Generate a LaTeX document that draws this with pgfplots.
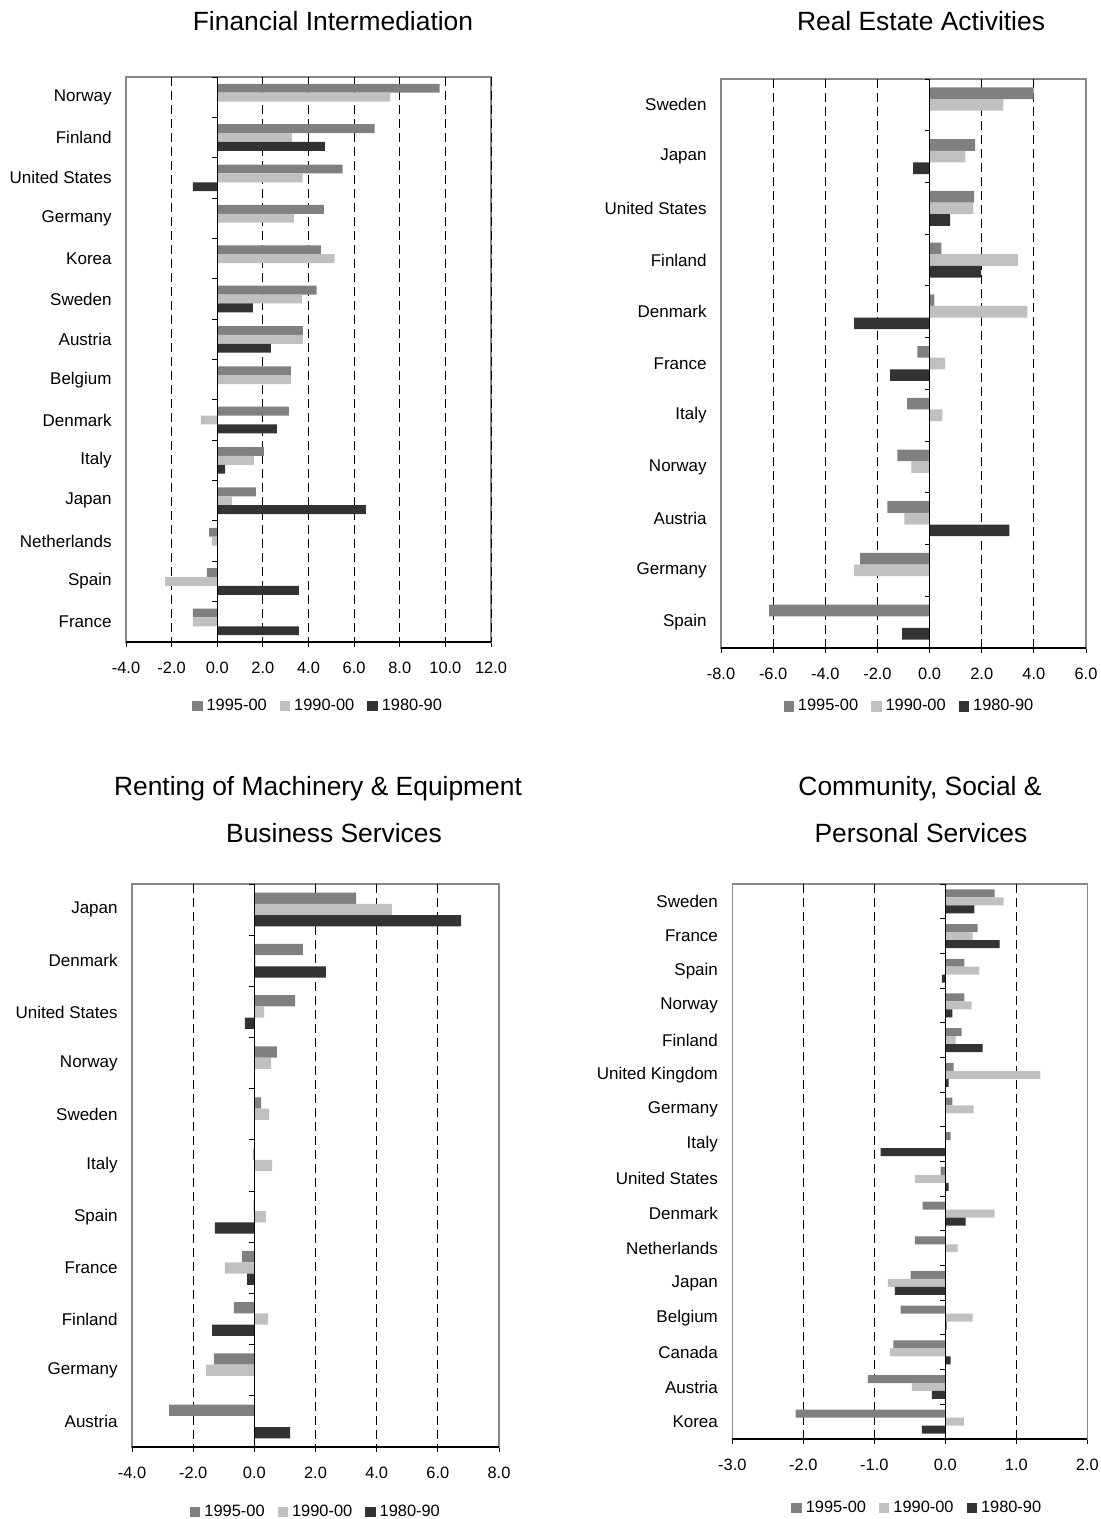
\documentclass[border=0pt]{standalone}
\usepackage{fontspec}
\setmainfont{Liberation Sans}
\usepackage{pgfplots}
\pgfplotsset{compat=1.18}
\definecolor{c95}{HTML}{808080}
\definecolor{c90}{HTML}{C0C0C0}
\definecolor{c80}{HTML}{333333}
\definecolor{frame}{HTML}{888888}

\newcommand\titlefont{\fontsize{13.2}{15}\selectfont}
\tikzset{gridl/.style={black, line width=0.5pt, dash pattern=on 4.5pt off 2.5pt}}

\pgfplotsset{
  oecd/.style={
    scale only axis, anchor=north west, xbar, y dir=reverse, clip=false,
    legend image code/.code={\fill[##1] (0pt,-2.6pt) rectangle (5.2pt,2.6pt);},
    axis line style={frame, line width=0.6pt},
    tick align=outside, xtick pos=left, ytick pos=left,
    major tick length=2.5pt,
    xtick style={black, line width=0.5pt},
    ytick style={draw=none},
    xticklabel style={font=\fontsize{8.2}{9.8}\selectfont, anchor=base, yshift=-13.3pt},
    yticklabel style={font=\fontsize{8.5}{10}\selectfont, anchor=east, inner sep=0pt, xshift=-4.5pt},
    legend style={draw=none, fill=none, legend columns=-1, anchor=center,
      font=\fontsize{8.2}{9.8}\selectfont, inner sep=0pt,
      /tikz/every even column/.append style={column sep=4.5pt}},
  },
}

\begin{document}
\begin{tikzpicture}
\path[use as bounding box] (0,0) rectangle (550.5pt,-759.5pt);

% --- Financial Intermediation ---
\node[font=\titlefont, anchor=base] at (166.5pt,-15.4pt) {Financial Intermediation};
\begin{axis}[oecd, at={(63pt,-38.5pt)}, width=182.5pt, height=282.5pt,
  xmin=-4, xmax=12, ymin=-0.5, ymax=13.5, bar width=0.22,
  xtick={-4,-2,...,12},
  xticklabels={-4.0,-2.0,0.0,2.0,4.0,6.0,8.0,10.0,12.0},
  ytick={0,...,13},
  yticklabels={Norway,Finland,United States,Germany,Korea,Sweden,Austria,Belgium,Denmark,Italy,Japan,Netherlands,Spain,France},
  legend style={at={(0.529,-0.113)}}]
\pgfplotsinvokeforeach{-2,2,4,6,8,10,12}{\draw[gridl] (axis cs:#1,-0.5) -- (axis cs:#1,13.5);}
\addplot[fill=c95, draw=none, bar shift=-0.22] coordinates {
  (9.75,0) (6.9,1) (5.5,2) (4.67,3) (4.54,4) (4.36,5) (3.75,6) (3.23,7) (3.14,8) (2.04,9) (1.69,10) (-0.36,11) (-0.45,12) (-1.07,13)};
\addlegendentry{1995-00}
\addplot[fill=c90, draw=none, bar shift=0] coordinates {
  (7.59,0) (3.27,1) (3.74,2) (3.36,3) (5.15,4) (3.71,5) (3.75,6) (3.23,7) (-0.72,8) (1.61,9) (0.64,10) (-0.23,11) (-2.29,12) (-1.07,13)};
\addlegendentry{1990-00}
\addplot[fill=c80, draw=none, bar shift=0.22] coordinates {
  (4.72,1) (-1.07,2) (1.56,5) (2.35,6) (2.61,8) (0.34,9) (6.51,10) (3.58,12) (3.58,13)};
\addlegendentry{1980-90}
\draw[black, line width=0.6pt] (axis cs:0,-0.5) -- (axis cs:0,13.5);
\pgfplotsinvokeforeach{-0.5,0.5,...,13.5}{\draw[black, line width=0.5pt] (axis cs:0,#1) -- ++(-2.5pt,0pt);}
\draw[black, line width=0.6pt] (axis cs:-4,13.5) -- (axis cs:12,13.5);
\end{axis}

% --- Real Estate Activities ---
\node[font=\titlefont, anchor=base] at (460.5pt,-15.4pt) {Real Estate Activities};
\begin{axis}[oecd, at={(360.5pt,-39.5pt)}, width=182.5pt, height=284.5pt,
  xmin=-8, xmax=6, ymin=-0.5, ymax=10.5, bar width=0.225,
  xtick={-8,-6,...,6},
  xticklabels={-8.0,-6.0,-4.0,-2.0,0.0,2.0,4.0,6.0},
  ytick={0,...,10},
  yticklabels={Sweden,Japan,United States,Finland,Denmark,France,Italy,Norway,Austria,Germany,Spain},
  legend style={at={(0.519,-0.103)}}]
\pgfplotsinvokeforeach{-6,-4,-2,2,4}{\draw[gridl] (axis cs:#1,-0.5) -- (axis cs:#1,10.5);}
\addplot[fill=c95, draw=none, bar shift=-0.225] coordinates {
  (3.99,0) (1.75,1) (1.71,2) (0.45,3) (0.18,4) (-0.47,5) (-0.86,6) (-1.24,7) (-1.62,8) (-2.66,9) (-6.15,10)};
\addlegendentry{1995-00}
\addplot[fill=c90, draw=none, bar shift=0] coordinates {
  (2.83,0) (1.37,1) (1.68,2) (3.40,3) (3.75,4) (0.60,5) (0.49,6) (-0.70,7) (-0.97,8) (-2.89,9)};
\addlegendentry{1990-00}
\addplot[fill=c80, draw=none, bar shift=0.225] coordinates {
  (-0.63,1) (0.79,2) (1.98,3) (-2.89,4) (-1.51,5) (3.06,8) (-1.05,10)};
\addlegendentry{1980-90}
\draw[black, line width=0.6pt] (axis cs:0,-0.5) -- (axis cs:0,10.5);
\pgfplotsinvokeforeach{-0.5,0.5,...,10.5}{\draw[black, line width=0.5pt] (axis cs:0,#1) -- ++(-2.5pt,0pt);}
\draw[black, line width=0.6pt] (axis cs:-8,10.5) -- (axis cs:6,10.5);
\end{axis}

% --- Renting of Machinery & Equipment ---
\node[font=\titlefont, anchor=base] at (159pt,-397.5pt) {Renting of Machinery \& Equipment};
\node[font=\titlefont, anchor=base] at (167pt,-421pt) {Business Services};
\begin{axis}[oecd, at={(66pt,-442pt)}, width=183.5pt, height=281.5pt,
  xmin=-4, xmax=8, ymin=-0.5, ymax=10.5, bar width=0.22,
  xtick={-4,-2,...,8},
  xticklabels={-4.0,-2.0,0.0,2.0,4.0,6.0,8.0},
  ytick={0,...,10},
  yticklabels={Japan,Denmark,United States,Norway,Sweden,Italy,Spain,France,Finland,Germany,Austria},
  legend style={at={(0.504,-0.1155)}}]
\pgfplotsinvokeforeach{-2,2,4,6}{\draw[gridl] (axis cs:#1,-0.5) -- (axis cs:#1,10.5);}
\addplot[fill=c95, draw=none, bar shift=-0.22] coordinates {
  (3.33,0) (1.59,1) (1.33,2) (0.74,3) (0.22,4) (-0.03,5) (-0.02,6) (-0.40,7) (-0.67,8) (-1.32,9) (-2.79,10)};
\addlegendentry{1995-00}
\addplot[fill=c90, draw=none, bar shift=0] coordinates {
  (4.50,0) (0.04,1) (0.32,2) (0.55,3) (0.48,4) (0.58,5) (0.38,6) (-0.96,7) (0.45,8) (-1.58,9) (0.01,10)};
\addlegendentry{1990-00}
\addplot[fill=c80, draw=none, bar shift=0.22] coordinates {
  (6.76,0) (2.34,1) (-0.31,2) (-1.29,6) (-0.24,7) (-1.38,8) (1.17,10)};
\addlegendentry{1980-90}
\draw[black, line width=0.6pt] (axis cs:0,-0.5) -- (axis cs:0,10.5);
\pgfplotsinvokeforeach{-0.5,0.5,...,10.5}{\draw[black, line width=0.5pt] (axis cs:0,#1) -- ++(-2.5pt,0pt);}
\draw[black, line width=0.6pt] (axis cs:-4,10.5) -- (axis cs:8,10.5);
\end{axis}

% --- Community, Social & Personal Services ---
\node[font=\titlefont, anchor=base] at (460pt,-397.5pt) {Community, Social \&};
\node[font=\titlefont, anchor=base] at (460.5pt,-421pt) {Personal Services};
\begin{axis}[oecd, at={(366.15pt,-442pt)}, width=177.5pt, height=277.5pt,
  xmin=-3, xmax=2, ymin=-0.5, ymax=15.5, bar width=0.23,
  xtick={-3,-2,...,2},
  xticklabels={-3.0,-2.0,-1.0,0.0,1.0,2.0},
  ytick={0,...,15},
  yticklabels={Sweden,France,Spain,Norway,Finland,United Kingdom,Germany,Italy,United States,Denmark,Netherlands,Japan,Belgium,Canada,Austria,Korea},
  legend style={at={(0.524,-0.124)}}]
\pgfplotsinvokeforeach{-2,-1,1}{\draw[gridl] (axis cs:#1,-0.5) -- (axis cs:#1,15.5);}
\addplot[fill=c95, draw=none, bar shift=-0.23] coordinates {
  (0.695,0) (0.455,1) (0.27,2) (0.27,3) (0.23,4) (0.117,5) (0.10,6) (0.075,7) (-0.066,8) (-0.32,9) (-0.43,10) (-0.49,11) (-0.63,12) (-0.73,13) (-1.09,14) (-2.11,15)};
\addlegendentry{1995-00}
\addplot[fill=c90, draw=none, bar shift=0] coordinates {
  (0.82,0) (0.385,1) (0.48,2) (0.37,3) (0.145,4) (1.34,5) (0.40,6) (-0.43,8) (0.695,9) (0.174,10) (-0.81,11) (0.385,12) (-0.78,13) (-0.47,14) (0.26,15)};
\addlegendentry{1990-00}
\addplot[fill=c80, draw=none, bar shift=0.23] coordinates {
  (0.41,0) (0.765,1) (-0.05,2) (0.10,3) (0.525,4) (0.047,5) (-0.91,7) (0.047,8) (0.286,9) (-0.71,11) (0.02,12) (0.075,13) (-0.19,14) (-0.33,15)};
\addlegendentry{1980-90}
\draw[black, line width=0.6pt] (axis cs:0,-0.5) -- (axis cs:0,15.5);
\pgfplotsinvokeforeach{-0.5,0.5,...,15.5}{\draw[black, line width=0.5pt] (axis cs:0,#1) -- ++(-2.5pt,0pt);}
\draw[black, line width=0.6pt] (axis cs:-3,15.5) -- (axis cs:2,15.5);
\end{axis}
\end{tikzpicture}
\end{document}
